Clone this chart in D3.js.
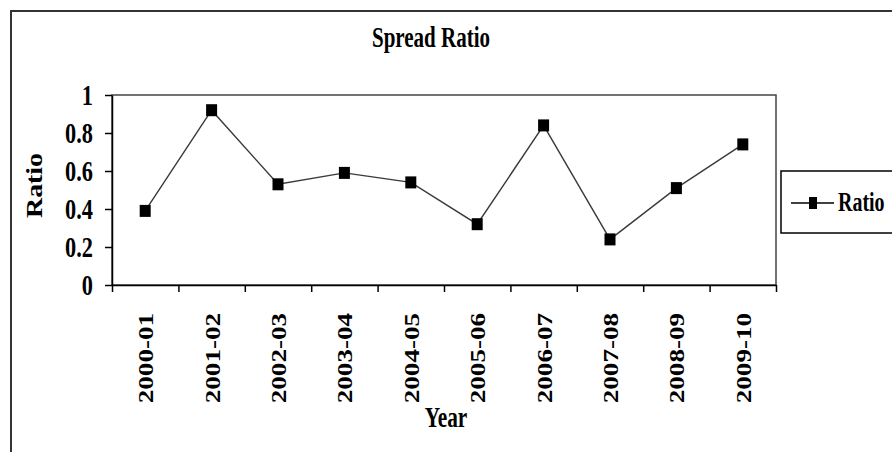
<!DOCTYPE html>
<html>
<head>
<meta charset="utf-8">
<script src="https://cdn.jsdelivr.net/npm/d3@7"></script>
<style>
  body { margin: 0; background: #fff; }
  text { font-family: "Liberation Serif", "Times New Roman", serif; font-weight: bold; fill: #000; }
</style>
</head>
<body>
<div id="chart"></div>
<script>
// Data
const years = ["2000-01", "2001-02", "2002-03", "2003-04", "2004-05",
               "2005-06", "2006-07", "2007-08", "2008-09", "2009-10"];
const ratio = [0.39, 0.92, 0.53, 0.59, 0.54, 0.32, 0.84, 0.24, 0.51, 0.74];
const yTicks = [0, 0.2, 0.4, 0.6, 0.8, 1];

const W = 892, H = 452;
const plot = { left: 112, right: 776, top: 95, bottom: 285 };

const svg = d3.select("#chart").append("svg")
  .attr("width", W).attr("height", H);

// squeeze / stretch text along its own direction (the source font is condensed)
function fit(sel, k) {
  sel.each(function () {
    const w = this.getComputedTextLength();
    this.setAttribute("textLength", w * k);
    this.setAttribute("lengthAdjust", "spacingAndGlyphs");
  });
}

// outer frame (cut at right and bottom)
svg.append("path")
  .attr("d", `M11,${H + 5}V11H${W + 5}`)
  .attr("fill", "none").attr("stroke", "#333").attr("stroke-width", 2);

const x = d3.scaleBand().domain(years).range([plot.left, plot.right]);
const xEdge = d3.scaleLinear().domain([0, years.length]).range([plot.left, plot.right]);
const y = d3.scaleLinear().domain([0, 1]).range([plot.bottom, plot.top]);

// plot area border
svg.append("rect")
  .attr("x", plot.left).attr("y", plot.top)
  .attr("width", plot.right - plot.left).attr("height", plot.bottom - plot.top)
  .attr("fill", "none").attr("stroke", "#444").attr("stroke-width", 1.5);

// Y axis
const yAxis = svg.append("g")
  .attr("transform", `translate(${plot.left},0)`)
  .call(d3.axisLeft(y).tickValues(yTicks).tickFormat(d3.format("")).tickSize(7).tickSizeOuter(0).tickPadding(12));
yAxis.select(".domain").attr("stroke", "#000").attr("stroke-width", 1.5);
yAxis.selectAll(".tick line").attr("stroke", "#000").attr("stroke-width", 1.5);
yAxis.selectAll(".tick text").attr("font-size", 29).attr("font-family", null).call(fit, 0.77);

// X axis: ticks between categories
const xAxis = svg.append("g")
  .attr("transform", `translate(0,${plot.bottom})`)
  .call(d3.axisBottom(xEdge).tickValues(d3.range(years.length + 1)).tickFormat("").tickSize(7).tickSizeOuter(0));
xAxis.select(".domain").attr("stroke", "#000").attr("stroke-width", 1.5);
xAxis.selectAll(".tick line").attr("stroke", "#000").attr("stroke-width", 1.5);

// category labels, rotated
svg.append("g").selectAll("text")
  .data(years).join("text")
  .attr("transform", d => `translate(${x(d) + x.bandwidth() / 2 + 8},313) rotate(-90)`)
  .attr("text-anchor", "end")
  .attr("font-size", 22)
  .text(d => d)
  .call(fit, 1.23);

// line + markers
const line = d3.line()
  .x((d, i) => x(years[i]) + x.bandwidth() / 2)
  .y(d => y(d));

svg.append("path")
  .datum(ratio)
  .attr("d", line)
  .attr("fill", "none").attr("stroke", "#3a3a3a").attr("stroke-width", 1.4);

svg.append("g").selectAll("rect")
  .data(ratio).join("rect")
  .attr("x", (d, i) => x(years[i]) + x.bandwidth() / 2 - 5.5)
  .attr("y", d => y(d) - 6)
  .attr("width", 11).attr("height", 12)
  .attr("fill", "#000");

// titles
svg.append("text")
  .attr("x", 431).attr("y", 47)
  .attr("text-anchor", "middle").attr("font-size", 30)
  .text("Spread Ratio").call(fit, 0.70);

svg.append("text")
  .attr("x", 446).attr("y", 427)
  .attr("text-anchor", "middle").attr("font-size", 30)
  .text("Year").call(fit, 0.71);

svg.append("text")
  .attr("transform", "translate(42,185.5) rotate(-90)")
  .attr("text-anchor", "middle").attr("font-size", 24)
  .text("Ratio").call(fit, 1.16);

// legend
const lg = svg.append("g");
lg.append("rect")
  .attr("x", 781).attr("y", 171).attr("width", 130).attr("height", 62)
  .attr("fill", "#fff").attr("stroke", "#000").attr("stroke-width", 1.5);
lg.append("line")
  .attr("x1", 791).attr("x2", 834).attr("y1", 203).attr("y2", 203)
  .attr("stroke", "#000").attr("stroke-width", 1.5);
lg.append("rect")
  .attr("x", 809).attr("y", 197).attr("width", 8).attr("height", 12)
  .attr("fill", "#000");
lg.append("text")
  .attr("transform", "translate(838,211) scale(0.74,1)")
  .attr("font-size", 27)
  .text("Ratio");
</script>
</body>
</html>
